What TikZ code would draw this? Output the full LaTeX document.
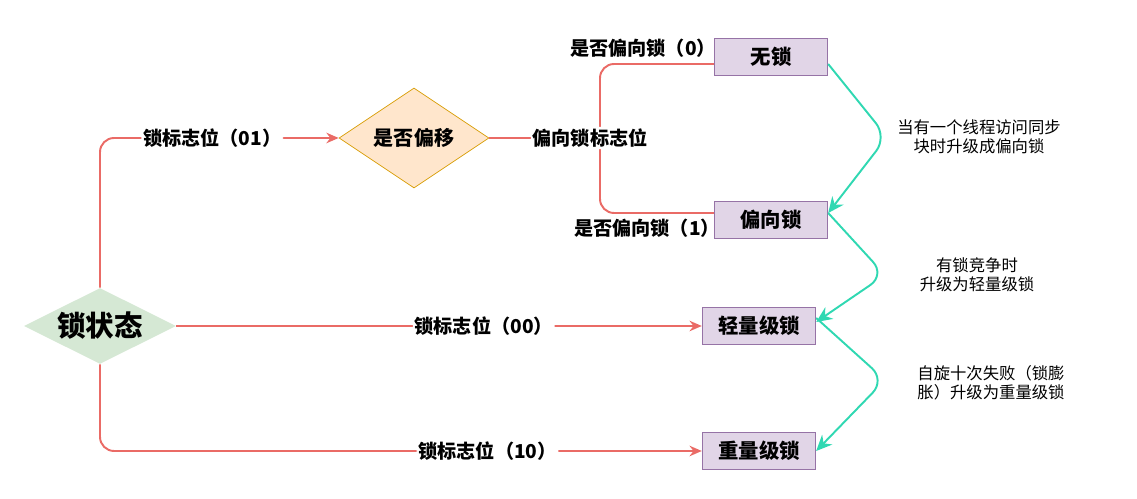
\documentclass[tikz,border=0pt]{standalone}
\usepackage{fontspec}
\setmainfont{Noto Sans CJK SC}
\usetikzlibrary{arrows.meta,positioning,shapes.geometric,calc}

\definecolor{lineRed}{HTML}{EA6B66}
\definecolor{upGreen}{HTML}{30D8B2}
\definecolor{stateFill}{HTML}{D5E8D4}
\definecolor{checkFill}{HTML}{FFE6CC}
\definecolor{checkDraw}{HTML}{D79B00}
\definecolor{lockFill}{HTML}{E1D5E7}
\definecolor{lockDraw}{HTML}{9673A6}

\begin{document}
\begin{tikzpicture}[
    x=0.02cm, y=-0.02cm,
    lock/.style={rectangle, draw=lockDraw, fill=lockFill, thick,
                 minimum width=2.26cm, minimum height=0.74cm,
                 font=\fontsize{11.6}{13}\selectfont\bfseries},
    state/.style={diamond, fill=stateFill, aspect=2, inner sep=0pt,
                  minimum width=3.04cm, minimum height=1.52cm,
                  font=\fontsize{16.2}{18}\selectfont\bfseries},
    check/.style={diamond, draw=checkDraw, fill=checkFill, aspect=1.5, inner sep=0pt,
                  minimum width=3cm, minimum height=2cm,
                  font=\fontsize{11.4}{13}\selectfont\bfseries},
    flag/.style={draw=lineRed, line width=1.1pt, rounded corners=8pt},
    upgrade/.style={draw=upGreen, line width=1.1pt, rounded corners=10pt,
                    -{Stealth[length=9pt,width=8pt]}},
    tag/.style={fill=white, inner sep=1pt},
    note/.style={align=center, font=\fontsize{9.3}{10.8}\selectfont},
    every node/.style={font=\fontsize{10.9}{12}\selectfont\bfseries}
]
\useasboundingbox (0,0) rectangle (1137,499);

\node[state] (lockstate) at (100,326) {锁状态};
\node[check] (isbiased) at (414,138) {是否偏移};

\node[lock] (nolock) at (771,57) {无锁};
\node[lock] (biased) at (771,220) {偏向锁};
\node[lock] (light) at (759,326) {轻量级锁};
\node[lock] (heavy) at (759,451) {重量级锁};

\coordinate (split) at (600,138);

\draw[flag, -{Stealth[length=7pt,width=6pt]}] (lockstate.north) |- (isbiased.west)
    node[tag, pos=0.735] {锁标志位（01）};
\draw[flag, -{Stealth[length=7pt,width=6pt]}] (lockstate.east) -- (light.west)
    node[tag, pos=0.585] {锁标志位（00）};
\draw[flag, -{Stealth[length=7pt,width=6pt]}] (lockstate.south) |- (heavy.west)
    node[tag, pos=0.822] {锁标志位（10）};

\draw[flag] (split) |- ($(nolock.west)+(0,7)$);
\draw[flag] (split) |- ($(biased.west)+(0,-7)$);
\draw[flag] (isbiased.east) -- (split)
    node[tag, pos=0.91] {偏向锁标志位};

\node (flag0) at (643,48) {是否偏向锁（0）};
\node (flag1) at (647,228) {是否偏向锁（1）};

\draw[upgrade] ($(nolock.east)+(0,7)$) -- (887,137) -- ($(biased.east)+(0,-7)$);
\draw[upgrade] ($(biased.east)+(0,-7)$) -- (885,275) -- ($(light.east)+(0,-4)$);
\draw[upgrade] ($(light.east)+(0,-8)$) -- (885,380) -- (heavy.east);

\node[note] (toBiased) at (979,137) {当有一个线程访问同步\\块时升级成偏向锁};
\node[note] (toLight) at (977,275) {有锁竞争时\\升级为轻量级锁};
\node[note] (toHeavy) at (991,383) {自旋十次失败（锁膨\\胀）升级为重量级锁};

\end{tikzpicture}
\end{document}
